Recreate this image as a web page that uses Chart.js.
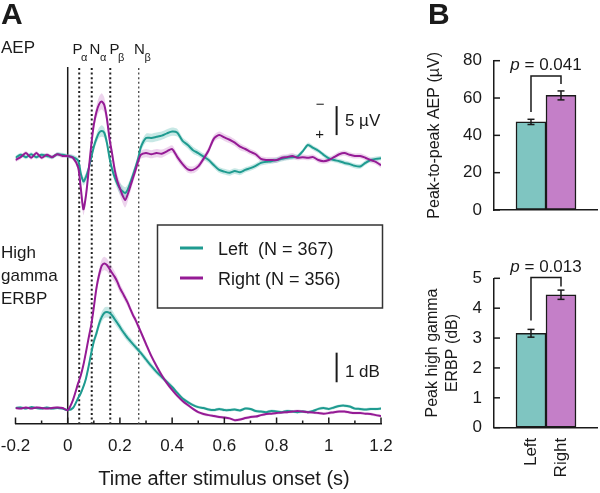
<!DOCTYPE html>
<html><head><meta charset="utf-8">
<script src="https://cdn.jsdelivr.net/npm/chart.js@4.4.0/dist/chart.umd.min.js"></script>
<style>
html,body{margin:0;padding:0;background:#fff;}
#wrap{position:relative;width:600px;height:493px;overflow:hidden;font-family:'Liberation Sans',Arial,sans-serif;color:#1a1a1a;}
canvas{position:absolute;}
.t{position:absolute;white-space:nowrap;line-height:1;}
</style></head><body>
<div id="wrap">
<canvas id="cA" width="420" height="493" style="left:0;top:0"></canvas>
<canvas id="cB1" width="180" height="240" style="left:420px;top:0"></canvas>
<canvas id="cB2" width="180" height="253" style="left:420px;top:240px"></canvas>
</div>
<script>
// ---------------- data ----------------
const times = [-0.2,-0.18,-0.16,-0.14,-0.12,-0.1,-0.08,-0.06,-0.04,-0.02,0,0.02,
 0.04,0.05,0.06,0.07,0.08,0.09,0.1,0.11,0.12,0.13,0.14,0.15,0.16,0.17,0.18,0.19,0.2,0.21,0.22,0.23,0.24,0.25,0.26,0.27,
 0.28,0.3,0.32,0.34,0.36,0.38,0.4,0.42,0.44,0.46,0.48,0.5,0.52,0.54,0.56,0.58,0.6,0.62,0.64,0.66,0.68,0.7,0.72,0.74,0.76,0.78,
 0.8,0.82,0.84,0.86,0.88,0.9,0.92,0.94,0.96,0.98,1,1.02,1.04,1.06,1.08,1.1,1.12,1.14,1.16,1.18,1.2];

// AEP (µV, positive plotted downward)
const aepLeft = [0.3,-0.2,0.2,-0.3,0.2,-0.2,0,0.2,-0.3,-0.2,0,0.2,
 0.8,3.0,4.4,3.6,2.2,0.3,-1.6,-3.0,-4.0,-4.3,-4.0,-2.3,0.3,2.3,3.7,4.8,5.6,6.1,6.4,5.8,4.6,3.3,1.9,0.4,
 -1.5,-3.1,-3.1,-3.3,-3.5,-3.9,-4.2,-4.0,-2.6,-1.9,-1.0,-0.5,0.1,0.7,1.6,2.4,2.7,2.9,2.6,2.8,
 2.4,2.1,1.7,1.2,1.0,0.9,0.7,0.5,0.3,0.2,0.1,-0.8,-1.9,-1.4,-0.9,-0.2,0.4,0.7,0.9,1.2,
 1.4,1.7,1.8,1.2,0.7,0.5,0.4];
const aepRight = [0.7,0.2,-0.5,0.3,-0.5,0.3,-0.2,0.2,-0.3,0,0,0.3,
 2.0,5.5,9.2,6.8,2.6,-1.8,-5.4,-7.6,-8.9,-9.4,-8.8,-6.5,-3.0,-0.4,2.4,4.3,5.6,6.8,7.6,6.6,5.2,3.8,2.4,0.9,
 -0.2,-0.5,-0.3,-0.5,-0.4,-0.8,-1.2,0.2,1.4,2.3,2.4,1.8,0.5,-1.0,-3.0,-3.6,-3.2,-2.8,-2.3,-1.6,
 -1.2,-0.7,-0.3,0.5,0.7,0.7,0.7,0.3,0.2,0,0.3,0.2,0.3,0.2,0.7,0.9,0.7,0.2,-0.3,-0.5,
 -0.2,0,0,0.3,0.7,1.0,1.6];
const semAepLeft = [0.35,0.35,0.35,0.35,0.35,0.35,0.35,0.35,0.35,0.35,0.35,0.4,
 0.5,0.6,0.7,0.7,0.6,0.6,0.7,0.8,0.9,1.0,0.9,0.8,0.7,0.7,0.8,0.9,1.0,1.0,1.0,0.9,0.8,0.8,0.7,0.7,
 0.75,0.75,0.75,0.75,0.7,0.7,0.7,0.65,0.6,0.6,0.6,0.55,0.55,0.5,0.5,0.5,0.5,0.5,0.5,0.5,
 0.45,0.45,0.45,0.45,0.45,0.45,0.45,0.45,0.45,0.45,0.4,0.4,0.4,0.4,0.4,0.4,0.4,0.4,0.4,0.4,
 0.4,0.4,0.4,0.4,0.4,0.4,0.4];
const semAepRight = [0.35,0.35,0.35,0.35,0.35,0.35,0.35,0.35,0.35,0.35,0.35,0.4,
 0.5,0.8,1.0,1.0,0.9,0.8,0.9,1.1,1.3,1.4,1.3,1.0,0.9,0.9,1.0,1.1,1.2,1.3,1.3,1.2,1.0,0.9,0.8,0.7,
 0.7,0.7,0.7,0.7,0.7,0.65,0.65,0.65,0.6,0.6,0.6,0.6,0.6,0.6,0.6,0.6,0.6,0.6,0.6,0.6,
 0.5,0.5,0.5,0.5,0.5,0.5,0.5,0.5,0.5,0.5,0.45,0.45,0.45,0.45,0.45,0.45,0.45,0.45,0.45,0.45,
 0.45,0.45,0.45,0.45,0.45,0.45,0.45];

// High gamma ERBP (dB)
const hgLeft = [0,0.02,-0.02,0.03,0,-0.02,0.02,-0.02,0,-0.02,-0.07,0,
 0.34,0.5,0.72,1.0,1.4,1.85,2.25,2.52,2.84,3.07,3.21,3.24,3.21,3.13,3.0,2.87,2.74,2.6,2.48,2.36,2.26,2.16,2.06,1.96,
 1.86,1.64,1.42,1.22,1.05,0.88,0.71,0.51,0.32,0.2,0.1,0.03,0,-0.05,-0.07,-0.03,-0.07,-0.07,-0.05,-0.08,
 -0.02,-0.03,-0.1,-0.12,-0.14,-0.1,-0.12,-0.14,-0.1,-0.12,-0.14,-0.12,-0.14,-0.1,-0.03,0,-0.03,0.02,0.07,0.08,
 0.05,-0.02,-0.03,-0.05,-0.03,-0.03,-0.02];
const hgRight = [0,-0.02,0.02,-0.02,0.02,0,-0.02,0,0.02,0,-0.07,0.27,
 0.84,1.1,1.45,1.89,2.36,2.8,3.4,4.05,4.49,4.8,4.88,4.83,4.7,4.56,4.43,4.26,4.05,3.89,3.72,3.55,3.34,3.14,2.97,2.77,
 2.57,2.16,1.76,1.42,1.11,0.84,0.61,0.41,0.24,0.1,-0.03,-0.14,-0.2,-0.24,-0.27,-0.3,-0.32,-0.35,-0.41,-0.39,
 -0.34,-0.3,-0.29,-0.24,-0.2,-0.19,-0.17,-0.15,-0.14,-0.12,-0.1,-0.12,-0.14,-0.15,-0.17,-0.19,-0.17,-0.14,-0.12,-0.12,
 -0.15,-0.17,-0.17,-0.19,-0.2,-0.24,-0.27];
const semHgLeft = [0.04,0.04,0.04,0.04,0.04,0.04,0.04,0.04,0.04,0.04,0.04,0.04,
 0.05,0.06,0.07,0.08,0.1,0.12,0.13,0.15,0.16,0.17,0.18,0.18,0.18,0.17,0.16,0.15,0.14,0.13,0.13,0.12,0.12,0.11,0.11,0.1,
 0.1,0.1,0.1,0.09,0.09,0.08,0.08,0.07,0.07,0.06,0.05,0.05,0.05,0.05,0.05,0.05,0.05,0.05,0.05,0.05,
 0.05,0.05,0.05,0.05,0.05,0.05,0.05,0.05,0.05,0.05,0.05,0.05,0.05,0.05,0.05,0.05,0.05,0.05,0.05,0.05,
 0.05,0.05,0.05,0.05,0.05,0.05,0.05];
const semHgRight = [0.04,0.04,0.04,0.04,0.04,0.04,0.04,0.04,0.04,0.04,0.04,0.05,
 0.06,0.07,0.08,0.1,0.12,0.14,0.16,0.18,0.2,0.22,0.23,0.22,0.21,0.2,0.18,0.17,0.16,0.15,0.14,0.13,0.12,0.12,0.11,0.11,
 0.1,0.1,0.09,0.09,0.08,0.08,0.07,0.07,0.06,0.06,0.05,0.05,0.05,0.05,0.05,0.05,0.05,0.05,0.05,0.05,
 0.05,0.05,0.05,0.05,0.05,0.05,0.05,0.05,0.05,0.05,0.05,0.05,0.05,0.05,0.05,0.05,0.05,0.05,0.05,0.05,
 0.05,0.05,0.05,0.05,0.05,0.05,0.05];

const markerTimes = [0.044, 0.092, 0.163, 0.272];
const markerLabels = [['P','α'],['N','α'],['P','β'],['N','β']];

const groups = ['Left', 'Right'];
const groupN = [367, 356];
const aepPeakMean = [47.2, 61.4];
const aepPeakSem = [1.4, 2.4];
const hgPeakMean = [3.16, 4.45];
const hgPeakSem = [0.13, 0.155];
const pValues = ['0.041', '0.013'];

// ---------------- styles ----------------
const TXT = '#1a1a1a';
const FONT = "'Liberation Sans', Arial, sans-serif";
const TEAL = '#1f9b90', PURPLE = '#951b95';
const TEAL_BAND = 'rgba(70,180,170,0.30)', PURPLE_BAND = 'rgba(190,100,190,0.28)';
const TEAL_BAR = '#7fc5c1', PURPLE_BAR = '#c47fc8';
Chart.defaults.font.family = FONT;
Chart.defaults.color = TXT;

const wrap = document.getElementById('wrap');
function addText(html, x, baseline, size, opts) {
  opts = opts || {};
  const d = document.createElement('div');
  d.className = 't'; d.innerHTML = html;
  d.style.fontSize = size + 'px';
  d.style.top = (baseline - 0.8465 * size) + 'px';
  d.style.left = x + 'px';
  if (opts.bold) d.style.fontWeight = 'bold';
  if (opts.center) d.style.transform = 'translateX(-50%)';
  wrap.appendChild(d);
}

// ---------------- Panel A ----------------
const xy = vals => vals.map((v, i) => ({ x: times[i], y: v }));
const edge = (vals, sem, s) => vals.map((v, i) => ({ x: times[i], y: v + s * sem[i] }));
function lineDs(label, vals, axis, color, order) {
  return { label, data: xy(vals), yAxisID: axis, borderColor: color, borderWidth: 2, pointRadius: 0, fill: false, order };
}
function bandPair(vals, sem, axis, color, lowerIndex) {
  return [
    { label: '', data: edge(vals, sem, -1), yAxisID: axis, borderWidth: 0, pointRadius: 0, fill: false, order: 10 },
    { label: '', data: edge(vals, sem, 1), yAxisID: axis, borderWidth: 0, pointRadius: 0, fill: lowerIndex, backgroundColor: color, order: 10 }
  ];
}
const dsA = [
  lineDs('Right', aepRight, 'yA', PURPLE, 1),
  lineDs('Left', aepLeft, 'yA', TEAL, 2),
  lineDs('Right', hgRight, 'yH', PURPLE, 1),
  lineDs('Left', hgLeft, 'yH', TEAL, 2),
  ...bandPair(aepLeft, semAepLeft, 'yA', TEAL_BAND, 4),
  ...bandPair(aepRight, semAepRight, 'yA', PURPLE_BAND, 6),
  ...bandPair(hgLeft, semHgLeft, 'yH', TEAL_BAND, 8),
  ...bandPair(hgRight, semHgRight, 'yH', PURPLE_BAND, 10)
];

const scaleBars = [
  { axis: 'yA', t: 1.03, from: -8.6, len: 5, label: '5 µV', labelDy: -9.3, signs: true },
  { axis: 'yH', t: 1.03, from: 0.87, len: 1, label: '1 dB', labelDy: -5.6, signs: false }
];

function seg(ctx, x1, y1, x2, y2) { ctx.beginPath(); ctx.moveTo(x1, y1); ctx.lineTo(x2, y2); ctx.stroke(); }

const panelAPlugin = {
  id: 'panelA',
  beforeDatasetsDraw(chart) {
    const { ctx, chartArea: { top, bottom }, scales: { x } } = chart;
    ctx.save();
    ctx.strokeStyle = TXT; ctx.lineWidth = 1.5;
    const x0 = x.getPixelForValue(0);
    seg(ctx, x0, top, x0, bottom);
    markerTimes.forEach((t, i) => {
      const px = x.getPixelForValue(t);
      ctx.setLineDash([2, 2.6]);
      ctx.lineWidth = i === 3 ? 1.3 : 2;
      ctx.strokeStyle = i === 3 ? '#444' : '#222';
      seg(ctx, px, top + 1, px, bottom);
    });
    ctx.restore();
  },
  afterDraw(chart) {
    const { ctx, scales, chartArea } = chart;
    const x = scales.x;
    ctx.save();
    ctx.strokeStyle = TXT; ctx.fillStyle = TXT; ctx.lineWidth = 1.5;
    const yb = chartArea.bottom;
    x.ticks.forEach(t => {
      const k = Math.round(t.value * 10);
      const len = (k % 2 === 0) ? 6.5 : 3.5;
      const px = x.getPixelForValue(t.value);
      seg(ctx, px, yb, px, yb - len);
    });
    scaleBars.forEach(b => {
      const ax = scales[b.axis];
      const px = x.getPixelForValue(b.t);
      const y1 = ax.getPixelForValue(b.from), y2 = ax.getPixelForValue(b.from + b.len);
      const yTop = Math.min(y1, y2), yBot = Math.max(y1, y2);
      ctx.lineWidth = 2;
      seg(ctx, px, yTop, px, yBot);
      ctx.font = '17px ' + FONT; ctx.textAlign = 'left'; ctx.textBaseline = 'alphabetic';
      ctx.fillText(b.label, px + 8.3, yBot + b.labelDy);
      if (b.signs) {
        ctx.font = '15px ' + FONT; ctx.textAlign = 'center'; ctx.textBaseline = 'middle';
        ctx.fillText('\u2212', px - 16.5, yTop - 1.5);
        ctx.fillText('+', px - 17, yBot - 0.5);
      }
    });
    // legend
    ctx.lineWidth = 1.5; ctx.strokeStyle = '#333';
    ctx.strokeRect(157.5, 225, 225, 83);
    const entries = [dsA[1], dsA[0]];
    entries.forEach((d, i) => {
      const yy = 248 + i * 30;
      ctx.strokeStyle = d.borderColor; ctx.lineWidth = 3;
      seg(ctx, 180, yy, 203, yy);
      ctx.fillStyle = TXT; ctx.font = '18px ' + FONT; ctx.textAlign = 'left'; ctx.textBaseline = 'alphabetic';
      const g = groups[i];
      ctx.fillText(g + (g.length < 5 ? '  ' : ' ') + '(N = ' + groupN[i] + ')', 218, yy + 7);
    });
    ctx.restore();
  }
};

new Chart(document.getElementById('cA'), {
  type: 'line',
  data: { datasets: dsA },
  options: {
    responsive: false, animation: false, devicePixelRatio: 1,
    elements: { line: { tension: 0.25 } },
    layout: { padding: { left: 15.5, right: 39, top: 67, bottom: 0 } },
    plugins: { legend: { display: false }, tooltip: { enabled: false } },
    scales: {
      x: {
        type: 'linear', min: -0.2, max: 1.2,
        ticks: {
          stepSize: 0.1, autoSkip: false, maxRotation: 0, padding: 0, font: { size: 17 }, color: TXT,
          callback: v => { const k = Math.round(v * 10); return (k % 2 === 0) ? String(k / 10) : ''; }
        },
        grid: { display: true, drawOnChartArea: false, drawTicks: true, tickLength: 12, tickColor: 'rgba(0,0,0,0)' },
        border: { display: true, color: TXT, width: 1.5 },
        afterFit: s => { s.height = 69; }
      },
      yA: { type: 'linear', display: false, reverse: true, min: -15.34, max: 46.21 },
      yH: { type: 'linear', display: false, min: -0.54, max: 11.52 }
    }
  },
  plugins: [panelAPlugin]
});

// ---------------- Panel B ----------------
function barDecor(means, sems, cfg) {
  return {
    id: 'decor',
    afterDatasetsDraw(chart) {
      const { ctx, scales: { y }, chartArea } = chart;
      const bars = chart.getDatasetMeta(0).data;
      ctx.save();
      ctx.strokeStyle = TXT; ctx.fillStyle = TXT; ctx.lineWidth = 1.5;
      const tops = bars.map((b, i) => {
        const lo = y.getPixelForValue(means[i] - sems[i]);
        const hi = y.getPixelForValue(means[i] + sems[i]);
        seg(ctx, b.x, lo, b.x, hi);
        seg(ctx, b.x - 3.5, lo, b.x + 3.5, lo);
        seg(ctx, b.x - 3.5, hi, b.x + 3.5, hi);
        return hi;
      });
      const legs = tops.map((t, i) => t - cfg.legGap[i]);
      const top = Math.min(...legs) - cfg.rise;
      ctx.beginPath();
      ctx.moveTo(bars[0].x, legs[0]); ctx.lineTo(bars[0].x, top);
      ctx.lineTo(bars[1].x, top); ctx.lineTo(bars[1].x, legs[1]);
      ctx.stroke();
      const cx = (bars[0].x + bars[1].x) / 2;
      const rest = ' = ' + cfg.p;
      ctx.textBaseline = 'alphabetic'; ctx.textAlign = 'left';
      ctx.font = 'italic 17px ' + FONT; const wp = ctx.measureText('p').width;
      ctx.font = '17px ' + FONT; const wr = ctx.measureText(rest).width;
      const x0 = cx - (wp + wr) / 2;
      ctx.font = 'italic 17px ' + FONT; ctx.fillText('p', x0, top - 6);
      ctx.font = '17px ' + FONT; ctx.fillText(rest, x0 + wp, top - 6);
      y.ticks.forEach(t => {
        const py = y.getPixelForValue(t.value);
        seg(ctx, chartArea.left, py, chartArea.left + 6, py);
      });
      ctx.restore();
    }
  };
}

function makeBars(id, means, sems, yMax, yStep, title, cfg) {
  return new Chart(document.getElementById(id), {
    type: 'bar',
    data: {
      datasets: [{
        data: means.map((m, i) => ({ x: i, y: m })),
        backgroundColor: [TEAL_BAR, PURPLE_BAR],
        borderColor: TXT, borderWidth: 1.5, borderSkipped: false, barThickness: 30
      }]
    },
    options: {
      responsive: false, animation: false, devicePixelRatio: 1,
      layout: { padding: { top: cfg.padTop, right: 3, bottom: cfg.padBottom, left: 0 } },
      plugins: { legend: { display: false }, tooltip: { enabled: false } },
      scales: {
        x: {
          type: 'linear', min: -1.233, max: 2.2, offset: false,
          grid: { display: true, drawOnChartArea: false, drawTicks: false, offset: false },
          border: { display: true, color: TXT, width: 1.5 },
          afterBuildTicks: s => { s.ticks = groups.map((g, i) => ({ value: i })); },
          ticks: {
            display: cfg.showLabels, autoSkip: false, minRotation: 90, maxRotation: 90,
            padding: 10, font: { size: 17 }, color: TXT, callback: (v, i) => groups[i]
          },
          afterFit: s => { s.height = cfg.xHeight; }
        },
        y: {
          min: 0, max: yMax,
          ticks: { stepSize: yStep, font: { size: 17 }, padding: 12, color: TXT },
          grid: { drawOnChartArea: false, drawTicks: false },
          border: { color: TXT, width: 1.5 },
          title: { display: true, text: title, font: { size: 16 }, color: TXT, padding: { top: cfg.titlePad, bottom: 0 } },
          afterFit: s => { s.width = 74; }
        }
      }
    },
    plugins: [barDecor(means, sems, cfg)]
  });
}

makeBars('cB1', aepPeakMean, aepPeakSem, 80, 20, 'Peak-to-peak AEP (µV)',
  { padTop: 60.7, padBottom: 30, xHeight: 0, showLabels: false, titlePad: 5.4, legGap: [7.3, 7], rise: 8, p: pValues[0] });
makeBars('cB2', hgPeakMean, hgPeakSem, 5, 1, ['Peak high gamma', 'ERBP (dB)'],
  { padTop: 38.3, padBottom: 0, xHeight: 65.3, showLabels: true, titlePad: 3.4, legGap: [9, 3.5], rise: 9, p: pValues[1] });

// ---------------- text annotations ----------------
addText('A', 1, 24, 30, { bold: true });
addText('B', 428, 24, 30, { bold: true });
addText('AEP', 1, 53.3, 17);
addText('High', 1, 258, 17);
addText('gamma', 1, 281, 17);
addText('ERBP', 1, 304, 17);
const markerLabelX = [72.5, 89.5, 109.5, 134];
markerLabels.forEach((m, i) => {
  addText(m[0], markerLabelX[i], 53.3, 15);
  addText(m[1], markerLabelX[i] + (m[0] === 'P' ? 8.5 : 10.5), 61, 11);
});
addText('Time after stimulus onset (s)', 224, 485, 20, { center: true });
</script>
</body></html>
